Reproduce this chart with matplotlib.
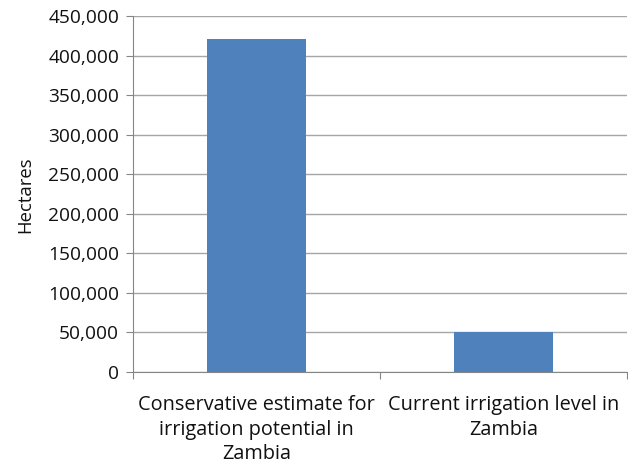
import matplotlib
matplotlib.use("Agg")
import matplotlib.pyplot as plt
from matplotlib.ticker import FuncFormatter, MultipleLocator

categories = ["Conservative estimate for\nirrigation potential in\nZambia",
              "Current irrigation level in\nZambia"]
hectares = [422000, 50000]

plt.rcParams['font.family'] = ['Open Sans', 'DejaVu Sans']

fig = plt.figure(figsize=(6.28, 4.68), dpi=100)
ax = fig.add_axes([133/628, 1 - 372/468, (627 - 133)/628, (372 - 16.4)/468])

x = range(len(categories))
ax.bar(x, hectares, width=0.4, color="#4F81BD", zorder=3)

ax.set_xlim(-0.5, len(categories) - 0.5)
ax.set_ylim(0, 450000)
ax.yaxis.set_major_locator(MultipleLocator(50000))
ax.yaxis.set_major_formatter(FuncFormatter(lambda v, p: f"{int(v):,}"))
ax.grid(axis="y", color="#A6A6A6", linewidth=1, zorder=0)

ax.set_xticks([-0.5, 0.5, 1.5])
ax.set_xticklabels(["", "", ""])
for i, lab in enumerate(categories):
    ax.text(i, -0.065, lab, transform=ax.get_xaxis_transform(), ha="center", va="top",
            fontsize=14.3, color="#111111", linespacing=1.3)

for s in ["top", "right"]:
    ax.spines[s].set_visible(False)
for s in ["left", "bottom"]:
    ax.spines[s].set_color("#868686")
ax.tick_params(axis="both", colors="#868686", length=5, direction="out", labelcolor="#111111",
               labelsize=13.8, pad=5)
ax.set_ylabel("Hectares", fontsize=13.3, color="#111111", labelpad=10)

fig.savefig("out.png", dpi=100)
